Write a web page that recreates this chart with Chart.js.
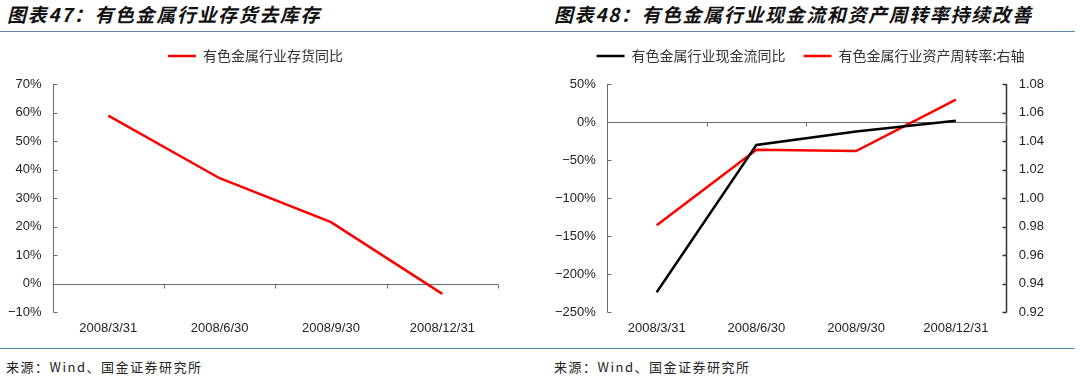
<!DOCTYPE html>
<html>
<head>
<meta charset="utf-8">
<script src="https://cdn.jsdelivr.net/npm/chart.js@4.4.1/dist/chart.umd.min.js"></script>
<style>
  body { margin: 0; background: #fff; width: 1080px; height: 379px; position: relative; overflow: hidden; }
  .title { position: absolute; top: 3px; font-family: "Noto Sans CJK SC", sans-serif; font-weight: bold; font-style: italic;
           font-size: 19px; letter-spacing: 1.6px; color: #111; white-space: nowrap; line-height: 22px; }
  .rule { position: absolute; left: 0; width: 1075px; height: 1px; background: #5b87ad; }
  .src { position: absolute; top: 358px; font-family: "Noto Sans CJK SC", sans-serif; font-size: 13px; letter-spacing: 1.5px;
         color: #222; white-space: nowrap; line-height: 18px; }
  canvas { position: absolute; }
</style>
</head>
<body>
<div class="title" style="left:7px">图表47：有色金属行业存货去库存</div>
<div class="title" style="left:554px">图表48：有色金属行业现金流和资产周转率持续改善</div>
<div class="rule" style="top:31px"></div>
<div class="rule" style="top:348px"></div>
<div class="src" style="left:6px">来源：Wind、国金证券研究所</div>
<div class="src" style="left:554px">来源：Wind、国金证券研究所</div>
<canvas id="invChart" width="540" height="315" style="left:0;top:29px"></canvas>
<canvas id="cashChart" width="540" height="315" style="left:540px;top:29px"></canvas>
<script>
const quarters = ["2008/3/31", "2008/6/30", "2008/9/30", "2008/12/31"];
// 有色金属行业存货同比 (%)
const inventoryYoy = [58.9, 37.0, 21.6, -3.5];
// 有色金属行业现金流同比 (%)
const cashFlowYoy = [-223.5, -30.0, -12.4, 1.7];
// 有色金属行业资产周转率 (right axis)
const assetTurnover = [0.981, 1.034, 1.033, 1.069];

const tickFont = { family: "Liberation Sans, Arial, sans-serif", size: 13 };
const legendFont = { family: "Noto Sans CJK SC, sans-serif", size: 14 };

function pct(v) {
    return (v < 0 ? "\u2212" + Math.abs(v) : v) + "%";
}

// extra room under the legend, and a small sideways nudge of it
const legendTweak = {
    id: "legendTweak",
    beforeLayout(chart, args, opts) {
        const lg = chart.legend;
        if (lg && !lg._tweaked) {
            const fit = lg.fit;
            lg.fit = function () {
                fit.call(this);
                this.height += opts.gap;
            };
            lg._tweaked = true;
        }
    },
    afterLayout(chart, args, opts) {
        const lg = chart.legend;
        if (lg) {
            lg.left += opts.shift;
            lg.right += opts.shift;
        }
    },
};

// axis lines with inward ticks, and the zero line with category ticks
const axisDeco = {
    id: "axisDeco",
    beforeDatasetsDraw(chart, args, opts) {
        const { ctx, chartArea: a, scales } = chart;
        ctx.save();
        for (const id of opts.yAxes) {
            const s = scales[id];
            const left = s.position === "left";
            const x = Math.round(left ? a.left : a.right) + 0.5;
            const dir = left ? 1 : -1;
            ctx.strokeStyle = left ? "#6b6b6b" : "#333";
            ctx.lineWidth = left ? 1 : 1.5;
            ctx.beginPath();
            ctx.moveTo(x, a.top);
            ctx.lineTo(x, a.bottom);
            s.ticks.forEach((t, i) => {
                const y = Math.round(s.getPixelForTick(i)) + 0.5;
                ctx.moveTo(x, y);
                ctx.lineTo(x + dir * 4, y);
            });
            ctx.stroke();
        }
        const y0 = Math.round(scales.y.getPixelForValue(0)) + 0.5;
        const n = quarters.length;
        ctx.strokeStyle = "#6b6b6b";
        ctx.lineWidth = 1;
        ctx.beginPath();
        ctx.moveTo(a.left, y0);
        ctx.lineTo(a.right, y0);
        for (let i = 1; i <= n; i++) {
            const x = Math.round(a.left + (a.right - a.left) * i / n) + 0.5;
            ctx.moveTo(x, y0);
            ctx.lineTo(x, y0 + 4);
        }
        ctx.stroke();
        ctx.restore();
    },
};

const xAxis = {
    offset: true,
    grid: { display: false, drawTicks: false },
    border: { display: false },
    ticks: { font: tickFont, color: "#222", padding: 8, maxRotation: 0, autoSkip: false },
};

const legendOpts = {
    position: "top",
    labels: {
        font: legendFont,
        color: "#333",
        usePointStyle: true,
        pointStyle: "line",
        pointStyleWidth: 28,
        padding: 18,
    },
};

new Chart(document.getElementById("invChart").getContext("2d"), {
    type: "line",
    data: {
        labels: quarters,
        datasets: [
            {
                label: "有色金属行业存货同比",
                data: inventoryYoy,
                borderColor: "#ff0000",
                backgroundColor: "#ff0000",
                borderWidth: 2.5,
                pointRadius: 0,
                tension: 0,
            },
        ],
    },
    options: {
        responsive: false,
        animation: false,
        layout: { padding: { left: -3, right: 42, top: 2, bottom: 0 } },
        plugins: {
            legend: legendOpts,
            tooltip: { enabled: false },
            axisDeco: { yAxes: ["y"] },
            legendTweak: { gap: 11, shift: 8 },
        },
        scales: {
            x: xAxis,
            y: {
                position: "left",
                min: -10,
                max: 70,
                grid: { display: false, drawTicks: false },
                border: { display: false },
                ticks: { stepSize: 10, font: tickFont, color: "#222", padding: 11, callback: pct },
            },
        },
    },
    plugins: [axisDeco, legendTweak],
});

new Chart(document.getElementById("cashChart").getContext("2d"), {
    type: "line",
    data: {
        labels: quarters,
        datasets: [
            {
                label: "有色金属行业现金流同比",
                data: cashFlowYoy,
                borderColor: "#000000",
                backgroundColor: "#000000",
                borderWidth: 2.5,
                pointRadius: 0,
                tension: 0,
                yAxisID: "y",
            },
            {
                label: "有色金属行业资产周转率:右轴",
                data: assetTurnover,
                borderColor: "#ff0000",
                backgroundColor: "#ff0000",
                borderWidth: 2.5,
                pointRadius: 0,
                tension: 0,
                yAxisID: "y1",
            },
        ],
    },
    options: {
        responsive: false,
        animation: false,
        layout: { padding: { left: 4, right: 23, top: 2, bottom: 0 } },
        plugins: {
            legend: legendOpts,
            tooltip: { enabled: false },
            axisDeco: { yAxes: ["y", "y1"] },
            legendTweak: { gap: 11, shift: 10 },
        },
        scales: {
            x: xAxis,
            y: {
                position: "left",
                min: -250,
                max: 50,
                grid: { display: false, drawTicks: false },
                border: { display: false },
                ticks: { stepSize: 50, font: tickFont, color: "#222", padding: 11, callback: pct },
            },
            y1: {
                position: "right",
                min: 0.92,
                max: 1.08,
                grid: { display: false, drawTicks: false },
                border: { display: false },
                ticks: { stepSize: 0.02, font: tickFont, color: "#222", padding: 13,
                         callback: (v) => v.toFixed(2) },
            },
        },
    },
    plugins: [axisDeco, legendTweak],
});
</script>
</body>
</html>
